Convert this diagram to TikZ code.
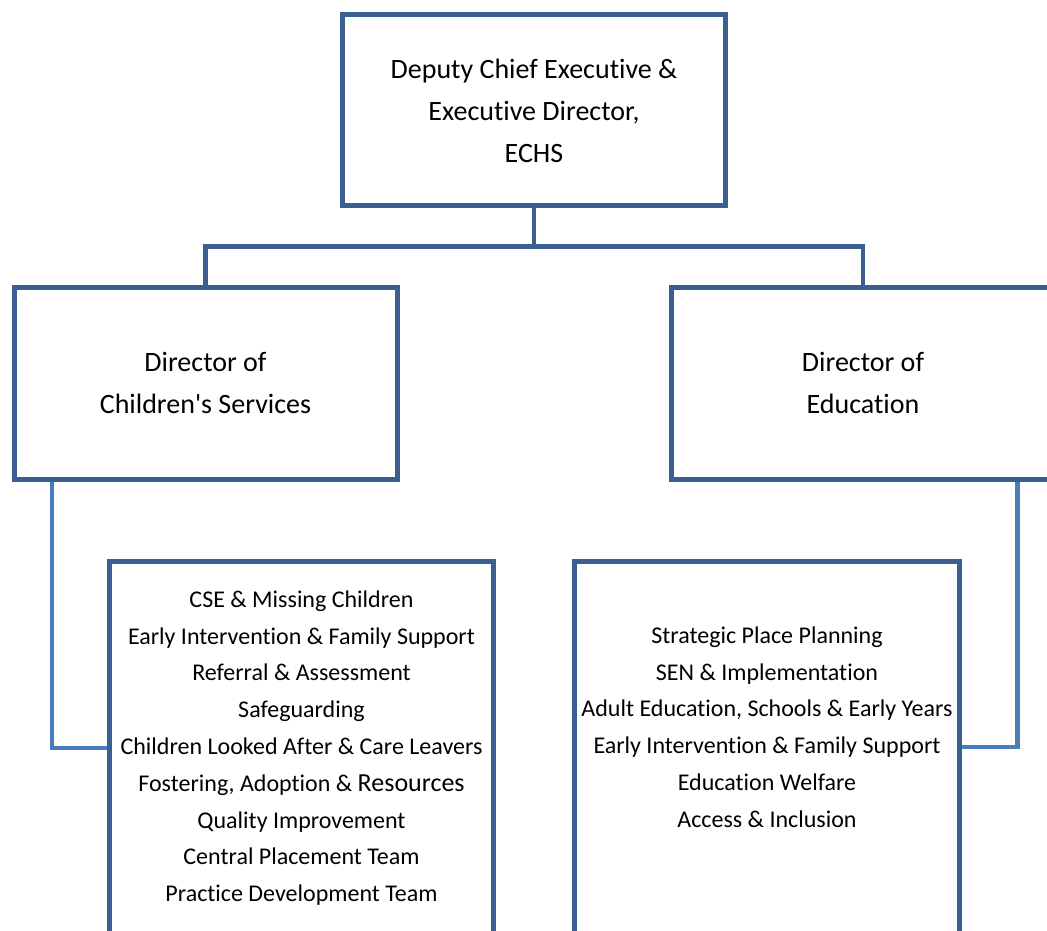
\documentclass[tikz,border=0pt]{standalone}
\usepackage{fontspec}
\setmainfont[Ligatures={TeX,NoCommon}]{Carlito}
\usetikzlibrary{calc}
\definecolor{boxcol}{RGB}{58,95,145}
\definecolor{linkcol}{RGB}{74,126,187}
\pgfdeclarelayer{background}
\pgfsetlayers{background,main}
\tikzset{
  orgbox/.style={draw=boxcol, line width=5pt, fill=white, rectangle, outer sep=0pt, inner sep=0pt, anchor=north west},
  bigtxt/.style={align=center, font=\fontsize{28}{42}\selectfont, inner sep=0pt},
  smalltxt/.style={align=center, font=\fontsize{24}{36.8}\selectfont, inner sep=0pt},
  toplink/.style={draw=boxcol, line width=4.6pt},
  sidelink/.style={draw=linkcol, line width=4.6pt}
}
\begin{document}
\begin{tikzpicture}[x=1pt,y=-1pt]
\useasboundingbox (0,0) rectangle (1047,930);
\clip (0,0) rectangle (1047,930);
% boxes
\node[orgbox, minimum width=383pt, minimum height=191pt] (top) at (342.5,14.5) {};
\node[orgbox, minimum width=383pt, minimum height=192pt] (cs) at (14,287.5) {};
\node[orgbox, minimum width=383pt, minimum height=192pt] (ed) at (671.5,287.5) {};
\node[orgbox, minimum width=384pt, minimum height=374pt] (bl) at (109.5,561) {};
\node[orgbox, minimum width=385pt, minimum height=372pt] (br) at (574.5,561) {};
% texts
\node[bigtxt] (toptxt) at (534,111) {Deputy Chief Executive \&\\Executive Director,\\ECHS};
\node[bigtxt] (cstxt) at (205.5,383) {Director of\\Children\textquotesingle s Services};
\node[bigtxt] (edtxt) at (863,383) {Director of\\Education};
\node[smalltxt] (bltxt) at (301.5,748) {CSE \& Missing Children\\Early Intervention \& Family Support\\Referral \& Assessment\\Safeguarding\\Children Looked After \& Care Leavers\\Fostering, Adoption \& {\fontsize{26}{36.8}\selectfont Resources}\\Quality Improvement\\Central Placement Team\\Practice Development Team};
\node[smalltxt] (brtxt) at (767,727) {Strategic Place Planning\\SEN \& Implementation\\Adult Education, Schools \& Early Years\\Early Intervention \& Family Support\\Education Welfare\\Access \& Inclusion};
% connectors
\coordinate (hbar) at (534,246.5);
\begin{pgfonlayer}{background}
\draw[toplink] (top.south) -- (hbar);
\draw[toplink] (cs.north) |- (hbar) -| (ed.north);
\draw[sidelink] ([xshift=38pt]cs.south west) |- (bl.west);
\draw[sidelink] ([xshift=346pt]ed.south west) |- (br.east);
\end{pgfonlayer}
\end{tikzpicture}
\end{document}
